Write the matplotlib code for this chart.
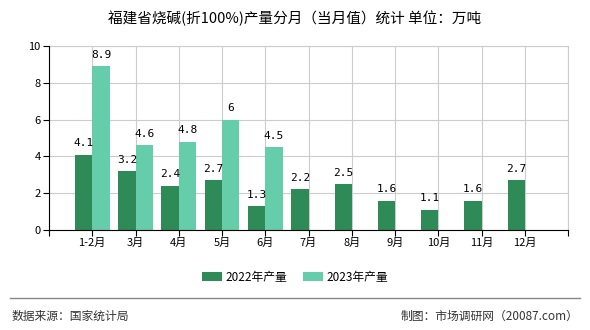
import numpy as np
import matplotlib.pyplot as plt
from matplotlib.lines import Line2D

plt.rcParams['font.family'] = ['Noto Sans CJK SC', 'DejaVu Sans']

months = ['1-2月', '3月', '4月', '5月', '6月', '7月', '8月', '9月', '10月', '11月', '12月']
prod_2022 = [4.1, 3.2, 2.4, 2.7, 1.3, 2.2, 2.5, 1.6, 1.1, 1.6, 2.7]
prod_2023 = [8.9, 4.6, 4.8, 6, 4.5]
yticks = [0, 2, 4, 6, 8, 10]

c22 = '#2e8b57'
c23 = '#66cdaa'

fig = plt.figure(figsize=(5.9, 3.3), dpi=100)
ax = fig.add_axes([0.083, 0.303, 0.88, 0.558])

x = np.arange(len(months))
x23 = np.arange(len(prod_2023))
w = 0.4
ax.bar(x - w / 2, prod_2022, w, color=c22, label='2022年产量', zorder=3)
ax.bar(x23 + w / 2, prod_2023, w, color=c23, label='2023年产量', zorder=3)

for xi, v in zip(x, prod_2022):
    ax.text(xi - w / 2, v + 0.35, f'{v:g}', ha='center', va='bottom', fontsize=8,
            family='DejaVu Sans Mono')
for xi, v in zip(x23, prod_2023):
    ax.text(xi + w / 2, v + 0.35, f'{v:g}', ha='center', va='bottom', fontsize=8,
            family='DejaVu Sans Mono')

ax.set_xlim(-1, len(months))
ax.set_ylim(0, 10)
ax.set_yticks(yticks)
ax.set_xticks(np.arange(-1, len(months) + 1))
ax.set_xticklabels([''] + months + [''], fontsize=8)
ax.tick_params(axis='x', length=4, pad=2)
ax.tick_params(axis='y', length=4, labelsize=8, pad=2)
ax.grid(True, color='#cccccc', linewidth=0.8, zorder=0)
for s in ['top', 'right']:
    ax.spines[s].set_color('#cccccc')
for s in ['left', 'bottom']:
    ax.spines[s].set_color('black')
ax.spines['left'].set_zorder(4)
ax.spines['bottom'].set_zorder(4)

fig.text(0.5, 0.945, '福建省烧碱(折100%)产量分月（当月值）统计 单位：万吨', ha='center',
         va='center', fontsize=10.5)

fig.legend(loc='center', bbox_to_anchor=(0.5, 0.16), ncol=2, frameon=False, fontsize=8.5,
           handlelength=1.7, handleheight=0.8, handletextpad=0.3, columnspacing=1.3)

fig.add_artist(Line2D([0.017, 0.983], [0.097, 0.097], color='#888888', linewidth=1))
fig.text(0.02, 0.042, '数据来源：国家统计局', fontsize=8.5, va='center', color='#333333')
fig.text(0.98, 0.042, '制图：市场调研网（20087.com）', fontsize=8.5, va='center', ha='right',
         color='#333333')

fig.savefig('out.png', dpi=100)
